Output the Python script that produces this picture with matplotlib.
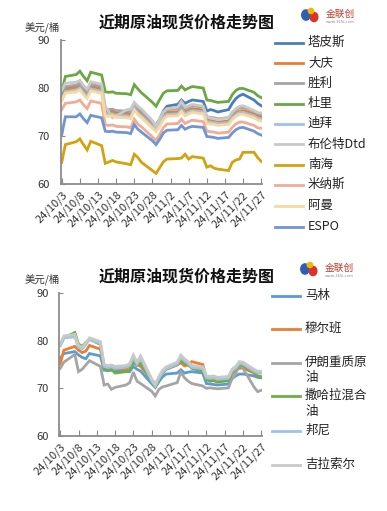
import matplotlib
matplotlib.use("Agg")
import matplotlib.pyplot as plt
from matplotlib.lines import Line2D
from matplotlib.patches import Ellipse
import pandas as pd

plt.rcParams['font.family'] = ['Noto Sans CJK SC', 'DejaVu Sans']

# trading days shown on both charts
dates = ["2024-10-03", "2024-10-04", "2024-10-07", "2024-10-08", "2024-10-09", "2024-10-10",
         "2024-10-11", "2024-10-14", "2024-10-15", "2024-10-16", "2024-10-17", "2024-10-18",
         "2024-10-21", "2024-10-22", "2024-10-23", "2024-10-24", "2024-10-25", "2024-10-28",
         "2024-10-29", "2024-10-30", "2024-10-31", "2024-11-01", "2024-11-04", "2024-11-05",
         "2024-11-06", "2024-11-07", "2024-11-08", "2024-11-11", "2024-11-12", "2024-11-13",
         "2024-11-14", "2024-11-15", "2024-11-18", "2024-11-19", "2024-11-20", "2024-11-21",
         "2024-11-22", "2024-11-25", "2024-11-26", "2024-11-27"]
tick_labels = ["24/10/3", "24/10/8", "24/10/13", "24/10/18", "24/10/23", "24/10/28",
               "24/11/2", "24/11/7", "24/11/12", "24/11/17", "24/11/22", "24/11/27"]

# ---- top chart (美元/桶)
tapis = [78.4, 80.0, 80.3, 80.7, 79.7, 78.9, 80.5, 80.0, 75.3, 75.2, 75.3, 75.0, 75.0, 74.8,
         76.6, 75.6, 75.0, 72.9, 72.2, 73.5, 75.2, 76.2, 76.6, 77.5, 76.8, 77.2, 77.5, 77.2,
         75.2, 75.5, 75.3, 75.0, 75.5, 76.8, 77.8, 78.4, 78.7, 77.5, 76.8, 76.3]
daqing = [78.2, 79.7, 80.0, 80.4, 79.4, 78.6, 80.2, 79.7, 75.0, 74.9, 75.0, 74.7, 74.6, 74.4,
          76.2, 75.2, 74.6, 72.4, 71.6, 72.8, 74.2, 74.9, 75.0, 75.9, 75.0, 75.4, 75.7, 75.4,
          73.3, 73.2, 73.1, 72.9, 73.1, 74.1, 74.8, 75.2, 75.3, 74.6, 74.2, 74.0]
shengli = [78.8, 80.3, 80.6, 81.0, 80.0, 79.2, 80.8, 80.3, 75.6, 75.5, 75.6, 75.3, 75.2, 75.0,
           76.8, 75.8, 75.2, 73.0, 72.2, 73.4, 74.8, 75.5, 75.6, 76.5, 75.6, 76.0, 76.3, 76.0,
           74.0, 73.9, 73.8, 73.6, 73.8, 74.8, 75.5, 75.9, 75.9, 75.2, 74.7, 74.5]
duri = [79.2, 82.4, 82.8, 83.5, 82.4, 81.5, 83.3, 82.7, 79.2, 79.1, 79.2, 78.9, 78.8, 78.6,
        80.7, 79.8, 79.0, 77.0, 76.2, 77.6, 78.9, 79.4, 79.5, 80.4, 79.6, 80.0, 80.3, 80.0,
        77.5, 77.4, 77.2, 77.0, 77.2, 78.6, 79.5, 79.9, 79.9, 79.1, 78.4, 78.0]
dubai = [77.6, 79.2, 79.6, 80.0, 79.0, 78.2, 79.8, 79.3, 74.6, 74.5, 74.6, 74.3, 74.2, 74.0,
         75.8, 74.8, 74.2, 72.0, 71.2, 72.4, 73.8, 74.5, 74.6, 75.5, 74.6, 75.0, 75.3, 75.0,
         73.0, 72.9, 72.8, 72.6, 72.8, 73.8, 74.5, 74.9, 74.9, 74.2, 73.7, 73.5]
brent_dtd = [79.5, 81.0, 81.2, 81.6, 80.5, 79.8, 81.3, 80.8, 76.2, 75.0, 73.8, 74.2, 75.5, 75.6,
             77.0, 76.2, 75.6, 73.2, 72.0, 73.5, 75.0, 75.7, 76.0, 77.2, 76.0, 76.3, 76.6, 76.2,
             74.0, 73.8, 73.6, 73.4, 73.9, 75.0, 75.7, 76.2, 76.3, 75.3, 74.9, 74.8]
nanhai = [64.5, 68.2, 68.8, 69.4, 68.2, 67.1, 68.9, 68.0, 64.3, 64.6, 64.9, 64.6, 64.2, 64.0,
          66.2, 65.5, 64.5, 62.8, 62.2, 63.4, 64.6, 65.2, 65.3, 65.4, 66.2, 65.2, 65.7, 65.4,
          63.5, 63.8, 63.3, 63.1, 62.8, 64.5, 65.0, 65.2, 66.6, 66.6, 65.5, 64.7]
minas = [75.5, 76.8, 77.1, 77.5, 76.5, 75.7, 77.3, 76.8, 72.3, 72.2, 72.3, 72.0, 71.9, 71.7,
         73.5, 72.5, 71.9, 69.8, 69.1, 70.3, 71.7, 72.5, 72.6, 73.5, 72.6, 73.0, 73.3, 73.0,
         71.0, 70.9, 70.8, 70.6, 70.8, 71.8, 72.5, 72.9, 72.9, 72.2, 71.7, 71.6]
oman = [77.3, 78.9, 79.2, 79.6, 78.6, 77.8, 79.4, 78.9, 74.2, 74.1, 74.2, 73.9, 73.8, 73.6,
        75.4, 74.4, 73.8, 71.6, 70.9, 72.0, 73.4, 74.1, 74.2, 75.1, 74.2, 74.6, 74.9, 74.6,
        72.6, 72.5, 72.4, 72.2, 72.4, 73.4, 74.1, 74.5, 74.5, 73.8, 73.3, 73.1]
espo = [70.2, 74.0, 74.0, 74.6, 73.6, 72.8, 74.3, 73.8, 71.0, 70.9, 71.0, 70.8, 70.7, 70.5,
        72.4, 71.4, 70.8, 69.0, 68.2, 69.3, 70.6, 71.2, 71.3, 72.2, 71.4, 71.8, 72.0, 71.8,
        69.9, 69.8, 69.7, 69.5, 69.7, 70.6, 71.3, 71.7, 71.8, 71.0, 70.5, 70.2]

# ---- bottom chart
marine = [76.3, 77.3, 77.7, 77.0, 76.5, 76.2, 77.3, 76.8, 73.8, 73.7, 73.8, 73.6, 73.5, 73.5,
          74.6, 74.0, 73.6, 71.0, 70.2, 71.4, 72.4, 73.0, 73.2, 73.9, 73.2, 73.4, 73.5, 73.2,
          71.0, 70.9, 70.8, 70.7, 70.9, 72.0, 72.6, 73.0, 73.0, 72.6, 72.3, 72.2]
murban = [75.2, 78.0, 78.8, 78.0, 77.5, 77.8, 79.0, 78.2, 74.6, 74.5, 74.4, 74.2, 74.0, 74.8,
          75.3, 75.0, 74.6, 71.8, 70.9, 72.0, 73.3, 74.0, 74.9, 75.4, 74.7, 74.9, 75.6, 75.0,
          72.2, 71.8, 71.7, 71.6, 71.8, 73.0, 73.8, 74.2, 74.3, 73.2, 72.6, 72.4]
iran_heavy = [74.2, 75.5, 77.1, 73.5, 74.0, 74.9, 75.8, 74.6, 70.7, 70.9, 69.8, 70.2, 70.7, 71.2,
              73.4, 71.5, 71.0, 69.4, 68.4, 69.8, 70.3, 70.5, 71.2, 73.4, 72.2, 71.5, 71.0, 70.5,
              70.0, 70.1, 70.0, 69.9, 70.1, 72.0, 73.0, 75.2, 74.2, 70.3, 69.3, 69.6]
saharan = [79.0, 80.6, 81.7, 79.3, 78.8, 79.6, 80.3, 79.2, 74.2, 73.8, 74.0, 73.2, 73.5, 73.9,
           75.6, 74.8, 75.3, 71.4, 70.3, 71.8, 73.2, 74.0, 75.0, 75.8, 75.2, 75.0, 74.2, 73.6,
           71.8, 71.5, 71.6, 71.3, 71.6, 73.2, 74.0, 74.9, 74.8, 73.4, 72.6, 72.4]
bonny = [79.0, 80.6, 80.8, 78.6, 78.3, 79.2, 80.3, 79.4, 74.6, 74.4, 74.5, 74.2, 74.4, 74.8,
         76.5, 75.1, 76.3, 71.6, 70.5, 72.1, 73.4, 74.1, 75.1, 76.5, 75.8, 75.2, 74.4, 74.1,
         72.2, 72.1, 72.2, 71.9, 72.1, 73.6, 74.2, 75.2, 75.1, 73.6, 73.2, 73.2]
girassol = [79.3, 81.0, 81.3, 79.0, 78.6, 79.5, 80.6, 79.8, 75.0, 74.8, 74.9, 74.6, 74.8, 75.2,
            77.0, 75.5, 76.8, 72.0, 70.8, 72.5, 73.8, 74.5, 75.5, 77.0, 76.2, 75.6, 74.8, 74.5,
            72.6, 72.5, 72.6, 72.3, 72.5, 74.0, 74.6, 75.6, 75.5, 74.0, 73.6, 73.6]

top_series = [("塔皮斯", tapis, "#4A7EBB"), ("大庆", daqing, "#ED7D31"),
              ("胜利", shengli, "#A5A5A5"), ("杜里", duri, "#6AA842"),
              ("迪拜", dubai, "#9DC3E6"), ("布伦特Dtd", brent_dtd, "#C9C9C9"),
              ("南海", nanhai, "#D4A20F"), ("米纳斯", minas, "#F2AB94"),
              ("阿曼", oman, "#F9D89C"), ("ESPO", espo, "#7094D6")]
bottom_series = [("马林", marine, "#5B9BD5"), ("穆尔班", murban, "#ED7D31"),
                 ("伊朗重质原\n油", iran_heavy, "#A5A5A5"), ("撒哈拉混合\n油", saharan, "#70AD47"),
                 ("邦尼", bonny, "#9DC3E6"), ("吉拉索尔", girassol, "#C9C9C9")]

days = (pd.to_datetime(dates) - pd.Timestamp(dates[0])).days
tick_days = list(range(0, 56, 5))

W, H = 387, 511
fig = plt.figure(figsize=(3.87, 5.11), dpi=100)


def fx(px):
    return px / W


def fy(py):
    return 1 - py / H


def draw_logo(px, py):
    fig.patches.append(Ellipse((fx(px), fy(py)), 0.022, 0.02, color="#2E5FB0",
                               transform=fig.transFigure, figure=fig))
    fig.patches.append(Ellipse((fx(px + 8), fy(py + 2)), 0.02, 0.018, color="#D9342B",
                               transform=fig.transFigure, figure=fig))
    fig.patches.append(Ellipse((fx(px + 5), fy(py - 4)), 0.014, 0.01, color="#F2B705",
                               transform=fig.transFigure, figure=fig))
    fig.text(fx(px + 20), fy(py - 1), "金联创", fontsize=7, color="#C0392B",
             va="center", ha="left")
    fig.text(fx(px + 20), fy(py + 7), "www.315i.com", fontsize=3, color="#888888",
             va="center", ha="left")


def draw_chart(rect, series, title_y, unit_y, legend_x, legend_ys):
    ax = fig.add_axes(rect)
    for name, vals, col in series:
        ax.plot(days, vals, color=col, lw=2.0, solid_joinstyle="miter")
    ax.set_xlim(-0.2, 55.2)
    ax.set_ylim(60, 90)
    ax.set_yticks([60, 70, 80, 90])
    ax.set_xticks(tick_days)
    ax.set_xticklabels(tick_labels, rotation=45, ha="right", rotation_mode="anchor",
                       fontsize=8, color="#333333")
    ax.tick_params(axis="x", direction="in", length=4, color="#888888", pad=4)
    ax.tick_params(axis="y", direction="in", length=3, color="#888888", labelsize=8,
                   labelcolor="#333333", pad=8)
    for s in ["top", "right"]:
        ax.spines[s].set_visible(False)
    for s in ["left", "bottom"]:
        ax.spines[s].set_color("#8C8C8C")
        ax.spines[s].set_linewidth(1.3)
    fig.text(fx(187), fy(title_y), "近期原油现货价格走势图", fontsize=11.5, fontweight="bold",
             ha="center", va="center", color="#111111")
    fig.text(fx(25), fy(unit_y), "美元/桶", fontsize=7.5, ha="left", va="center", color="#333333")
    for (name, vals, col), ly in zip(series, legend_ys):
        fig.lines.append(Line2D([fx(legend_x), fx(legend_x + 28)], [fy(ly), fy(ly)],
                                color=col, lw=2.0, transform=fig.transFigure, figure=fig))
        fig.text(fx(legend_x + 33), fy(ly - 7), name, fontsize=9, ha="left", va="top",
                 color="#222222", linespacing=1.25)
    return ax


draw_chart([fx(61), fy(184), fx(262) - fx(61), fy(40) - fy(184)], top_series,
           23, 27, 275, [42.7, 63.3, 83.5, 104, 124, 144.5, 165, 185, 206, 226.5])
draw_chart([fx(59.5), fy(436), fx(262) - fx(59.5), fy(293) - fy(436)], bottom_series,
           277, 279, 272, [296, 329, 362.5, 396, 431, 465])

draw_logo(306, 15)
draw_logo(305, 269)

fig.savefig("out.png", dpi=100)
